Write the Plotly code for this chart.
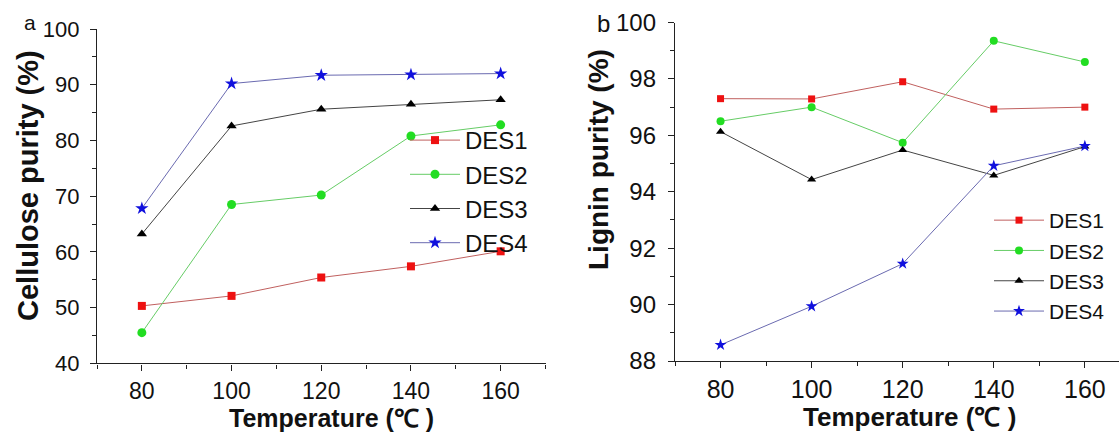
import plotly.graph_objects as go

W, H = 1119, 434

temps = [80, 100, 120, 140, 160]
series_names = ["DES1", "DES2", "DES3", "DES4"]

cell_des1 = [50.3, 52.1, 55.4, 57.4, 60.1]
cell_des2 = [45.5, 68.5, 70.2, 80.8, 82.8]
cell_des3 = [63.2, 82.6, 85.6, 86.5, 87.3]
cell_des4 = [67.8, 90.2, 91.7, 91.8, 92.0]

lig_des1 = [97.3, 97.29, 97.9, 96.93, 97.0]
lig_des2 = [96.5, 97.0, 95.74, 99.35, 98.6]
lig_des3 = [96.13, 94.43, 95.48, 94.58, 95.6]
lig_des4 = [88.57, 89.94, 91.45, 94.92, 95.62]

cell_ticks = [40, 50, 60, 70, 80, 90, 100]
cell_minor = [45, 55, 65, 75, 85, 95]
lig_ticks = [88, 90, 92, 94, 96, 98, 100]
lig_minor = [89, 91, 93, 95, 97, 99]
x_ticks = [80, 100, 120, 140, 160]
x_minor = [70, 90, 110, 130, 150, 170]

line_colors = ["#c0605f", "#66cc66", "#444444", "#6a6ab0"]
marker_colors = ["#ee1111", "#22dd22", "#000000", "#1010dd"]
marker_symbols = ["square", "circle", "triangle-up", "star"]
marker_sizes = [8, 9, 9, 10]

FONT = "Liberation Sans, Arial, sans-serif"

fig = go.Figure()

cell_data = [cell_des1, cell_des2, cell_des3, cell_des4]
lig_data = [lig_des1, lig_des2, lig_des3, lig_des4]

for i, name in enumerate(series_names):
    fig.add_trace(go.Scatter(
        x=temps, y=cell_data[i], name=name, mode="lines+markers",
        line=dict(color=line_colors[i], width=1),
        marker=dict(symbol=marker_symbols[i], size=marker_sizes[i], color=marker_colors[i], line=dict(width=0)),
        xaxis="x", yaxis="y", legend="legend", cliponaxis=False,
    ))
for i, name in enumerate(series_names):
    fig.add_trace(go.Scatter(
        x=temps, y=lig_data[i], name=name, mode="lines+markers",
        line=dict(color=line_colors[i], width=1),
        marker=dict(symbol=marker_symbols[i], size=marker_sizes[i] - 1, color=marker_colors[i], line=dict(width=0)),
        xaxis="x2", yaxis="y2", legend="legend2", cliponaxis=False,
    ))

def px(x):
    return x / W

def py(y):
    return (H - y) / H

def axis_style(minor_vals):
    return dict(
        automargin=False,
        showline=True, linecolor="#222222", linewidth=1.4, mirror=False,
        showgrid=False, zeroline=False, ticks="outside", ticklen=6, tickwidth=1.3,
        tickcolor="#222222",
        minor=dict(ticks="outside", ticklen=4, tickwidth=1.2, tickcolor="#222222",
                   tickvals=minor_vals, showgrid=False),
    )

fig.update_layout(
    template="none",
    width=W, height=H, autosize=False,
    margin=dict(l=0, r=0, t=0, b=0, pad=0),
    paper_bgcolor="white", plot_bgcolor="white",
    font=dict(family=FONT, color="#111111"),
    xaxis=dict(**axis_style(x_minor), domain=[px(97), px(545.5)], range=[70, 170],
               tickvals=x_ticks, tickfont=dict(size=23, family=FONT, color="#111111"), anchor="y",
               ticklabelstandoff=1),
    yaxis=dict(**axis_style(cell_minor), domain=[py(363.3), py(29)], range=[40, 100],
               tickvals=cell_ticks, tickfont=dict(size=22, family=FONT, color="#111111"), anchor="x",
               ticklabelstandoff=6),
    xaxis2=dict(**axis_style(x_minor), domain=[px(675), 1.0], range=[70, 167.5],
                tickvals=x_ticks, tickfont=dict(size=25, family=FONT, color="#111111"), anchor="y2",
                ticklabelstandoff=0),
    yaxis2=dict(**axis_style(lig_minor), domain=[py(361), py(22.5)], range=[88, 100],
                tickvals=lig_ticks, tickfont=dict(size=24, family=FONT, color="#111111"), anchor="x2",
                ticklabelstandoff=7),
    legend=dict(x=px(405), y=py(118), xanchor="left", yanchor="top",
                bgcolor="rgba(0,0,0,0)", borderwidth=0,
                font=dict(size=24, family=FONT, color="#111111"),
                itemwidth=50, tracegroupgap=0),
    legend2=dict(x=px(989), y=py(200), xanchor="left", yanchor="top",
                 bgcolor="rgba(0,0,0,0)", borderwidth=0,
                 font=dict(size=21, family=FONT, color="#111111"),
                 itemwidth=50, tracegroupgap=0),
    showlegend=True,
)

annots = [
    dict(text="Cellulose purity (%)", x=px(28), y=py(186), textangle=-90,
         font=dict(size=29, family=FONT, color="#111111", weight="bold")),
    dict(text="Lignin purity (%)", x=px(598), y=py(159), textangle=-90,
         font=dict(size=28, family=FONT, color="#111111", weight="bold")),
    dict(text="Temperature (℃ )", x=px(331.7), y=py(418),
         font=dict(size=25, family=FONT, color="#111111", weight="bold")),
    dict(text="Temperature (℃ )", x=px(909.5), y=py(417),
         font=dict(size=26, family=FONT, color="#111111", weight="bold")),
    dict(text="a", x=px(30), y=py(22), font=dict(size=21, family=FONT, color="#111111")),
    dict(text="b", x=px(603.5), y=py(23.3), font=dict(size=24, family=FONT, color="#111111")),
]
for a in annots:
    fig.add_annotation(xref="paper", yref="paper", showarrow=False,
                       xanchor="center", yanchor="middle", **a)

fig.write_html(
    "out.html",
    config={"displayModeBar": False},
    post_script="document.body.style.margin='0';document.body.style.padding='0';"
                "document.documentElement.style.overflow='hidden';",
)
